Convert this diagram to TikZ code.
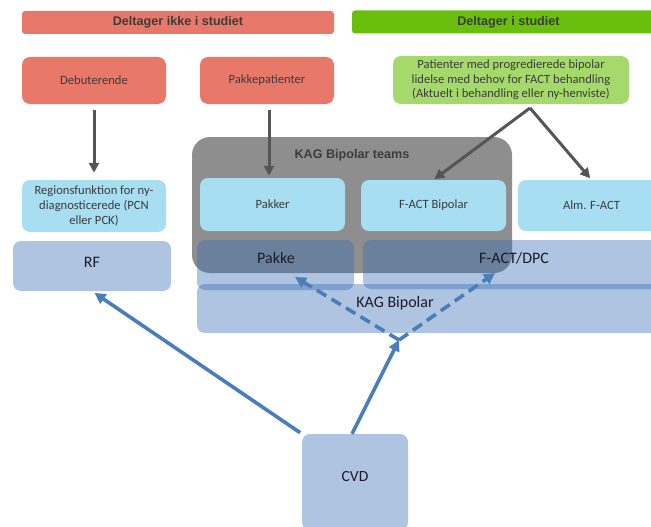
\documentclass[tikz,border=0pt]{standalone}
\usepackage{fontspec}
\setmainfont{Carlito}
\newfontfamily\headfont{Liberation Sans}
\usetikzlibrary{arrows.meta}
\definecolor{redh}{HTML}{E8796A}
\definecolor{greenh}{HTML}{6ABF0E}
\definecolor{greenl}{HTML}{A5D96B}
\definecolor{lblue}{HTML}{A8DEF1}
\definecolor{grayb}{HTML}{8E8E8E}
\definecolor{bluec}{HTML}{346BB4}
\definecolor{arrowblue}{HTML}{4A7EBB}
\definecolor{arrowgray}{HTML}{555555}
\definecolor{txt}{HTML}{3C3C3C}
\definecolor{txtd}{HTML}{1C1C28}
\begin{document}
\begin{tikzpicture}[x=1pt,y=-1pt,
  hdr/.style={draw=none,inner sep=0pt,rounded corners=3pt,text=txt,font=\headfont\bfseries\fontsize{12.6}{14}\selectfont},
  sbox/.style={draw=none,inner sep=0pt,rounded corners=8pt,text=txt,align=center,font=\fontsize{12.6}{14.6}\selectfont},
  bbox/.style={draw=none,inner sep=0pt,rounded corners=8pt,fill=bluec,fill opacity=0.4},
  btext/.style={inner sep=0pt,text=txtd,font=\fontsize{16}{19}\selectfont},
  garrow/.style={draw=arrowgray,line width=3pt,-{Triangle[length=10pt,width=10pt]}},
  barrow/.style={draw=arrowblue,line width=3.6pt,-{Triangle[length=11pt,width=11pt]}},
  darrow/.style={barrow,dash pattern=on 11pt off 6pt}]
\useasboundingbox (0,0) rectangle (651,527);

% headers
\node[hdr,fill=redh,minimum width=312pt,minimum height=23pt] (h1) at (178,22.5) {Deltager ikke i studiet};
\node[hdr,fill=greenh,minimum width=313pt,minimum height=23pt] (h2) at (508.5,22) {Deltager i studiet};

% top boxes
\node[sbox,fill=redh,minimum width=144pt,minimum height=47pt] (deb) at (94,80.5) {Debuterende};
\node[sbox,fill=redh,minimum width=134pt,minimum height=47pt] (pp) at (267,80.5) {Pakkepatienter};
\node[sbox,fill=greenl,minimum width=236pt,minimum height=48pt] (pat) at (511,80) {Patienter med progredierede bipolar\\lidelse med behov for FACT behandling\\(Aktuelt i behandling eller ny-henviste)};

% gray team box
\node[draw=none,fill=grayb,rounded corners=18pt,minimum width=320pt,minimum height=136pt,inner sep=0pt] (team) at (352,205) {};
\node[inner sep=0pt,text=txt,font=\headfont\bfseries\fontsize{12.6}{14}\selectfont] (teaml) at (352,155) {KAG Bipolar teams};

% blue organisational boxes (transparent)
\node[bbox,minimum width=158pt,minimum height=50pt] (rf) at (92,266) {};
\node[bbox,minimum width=157pt,minimum height=50pt] (pakke) at (275.5,265) {};
\node[bbox,minimum width=302pt,minimum height=49pt] (fdpc) at (514,264.5) {};
\node[bbox,minimum width=468pt,minimum height=49pt] (kag) at (431,308.5) {};
\node[bbox,minimum width=106pt,minimum height=96pt] (cvd) at (355,482) {};

\node[btext] (rfl) at (92,262) {RF};
\node[btext] (pakkel) at (276,258) {Pakke};
\node[btext] (fdpcl) at (514,258) {F-ACT/DPC};
\node[btext] (kagl) at (395,303) {KAG Bipolar};
\node[btext,font=\fontsize{15.5}{18}\selectfont] (cvdl) at (355,477) {CVD};

% light blue boxes
\node[sbox,fill=lblue,minimum width=144pt,minimum height=52pt] (reg) at (94,206) {Regionsfunktion for ny-\\diagnosticerede (PCN\\eller PCK)};
\node[sbox,fill=lblue,minimum width=145pt,minimum height=53pt] (pakker) at (272.5,204.5) {Pakker};
\node[sbox,fill=lblue,minimum width=145pt,minimum height=51pt] (fb) at (433.5,205.5) {F-ACT Bipolar};
\node[sbox,fill=lblue,minimum width=147pt,minimum height=51pt] (alm) at (591.5,205.5) {Alm. F-ACT};

% gray arrows
\draw[garrow,shorten <=6pt,shorten >=7pt] (deb) -- (reg);
\coordinate (ppx) at (269,104);
\draw[garrow,shorten <=6pt,shorten >=2pt] (ppx) -- (ppx |- pakker.north);
\coordinate (apex) at (530,108);
\draw[garrow,shorten >=1pt] (apex) -- (fb.north);
\draw[garrow,shorten >=2pt] (apex) -- (alm.north);

% blue arrows
\coordinate (junc) at (399,340);
\draw[barrow,shorten <=2pt,shorten >=3pt] (cvd.north west) -- (rf.south);
\draw[barrow] ([xshift=-3pt]cvd.north) -- (junc);
\coordinate (pk) at (295,277);
\coordinate (fd) at (495,273);
\draw[darrow] (junc) -- (pk);
\draw[darrow] (junc) -- (fd);
\end{tikzpicture}
\end{document}
